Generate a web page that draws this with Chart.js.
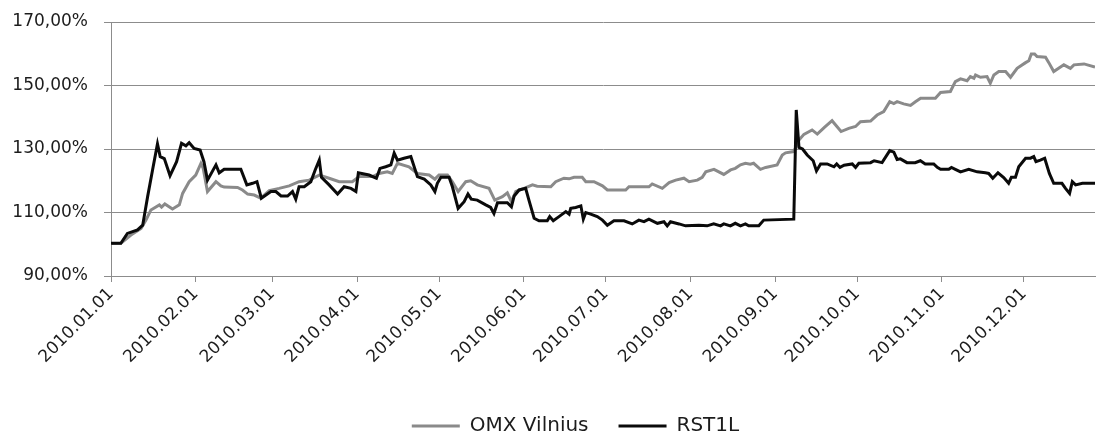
<!DOCTYPE html>
<html>
<head>
<meta charset="utf-8">
<title>OMX Vilnius ir RST1L, 2010</title>
<script src="https://cdn.jsdelivr.net/npm/chart.js@4.4.1/dist/chart.umd.min.js"></script>
<style>
  html, body { margin: 0; padding: 0; background: #fff; overflow: hidden; }
  #wrap { width: 1101px; height: 446px; }
</style>
</head>
<body>
<div id="wrap"><canvas id="chart" width="1101" height="446"></canvas></div>
<script>
// --- DUOMENYS ---
// x: dienos nuo 2010.01.01, y: pokytis procentais (100 % = 2010.01.01)
const monthLabels = ['2010.01.01', '2010.02.01', '2010.03.01', '2010.04.01', '2010.05.01', '2010.06.01',
                     '2010.07.01', '2010.08.01', '2010.09.01', '2010.10.01', '2010.11.01', '2010.12.01'];

const omxDay = [0, 3.6, 7.3, 11, 12.8, 14.6, 17.7, 18.5, 19.7, 22.5, 25, 26.2, 28.6, 31, 32.9, 33.7, 35.3, 38.4, 40.2,
  41.4, 46.3, 48.1, 50, 52.4, 54.8, 57.9, 61.5, 65.2, 68.8, 72.5, 76.2, 79.8, 83.5, 88.3, 90.8, 95.7, 98.1, 101.1,
  102.9, 104.8, 109, 112.1, 116.4, 118.5, 120, 123.1, 124.9, 127, 129.8, 131.6, 134, 138.3, 140.4, 143.2, 145,
  146.5, 148.1, 151.1, 154.2, 155.9, 160.9, 162.7, 165.7, 167.6, 169.4, 172.4, 173.7, 176.7, 179.8, 181.6, 188.3,
  189.5, 196.8, 198, 201.7, 204.2, 206.6, 209.6, 211.5, 214.5, 216.3, 217.6, 220.6, 224.2, 226.7, 228.4, 230.3,
  232.1, 233.9, 235.1, 237.6, 239.5, 243.7, 245.6, 246.8, 249.8, 251.7, 253.5, 256.5, 258.4, 261, 263.8, 267.1,
  269.9, 272.4, 274.2, 277.9, 280.3, 282.7, 284.9, 286.4, 287.6, 290, 292.5, 294.3, 296.2, 301.6, 303.5, 307.1,
  308.9, 310.8, 313.2, 314.4, 315.7, 316.3, 318.1, 320.5, 321.7, 323, 324.8, 327.3, 329.1, 331.5, 334.6, 335.8,
  336.7, 337.9, 338.8, 341.9, 343.1, 344.9, 348.6, 351, 352.3, 356, 357.2, 360];
const omxValue = [100.2, 100.3, 102.9, 105, 107.6, 110.8, 112.4, 111.7, 112.7, 111.1, 112.4, 116, 119.7, 121.8, 125.5,
  124, 116.6, 119.7, 118.4, 118, 117.9, 117.1, 115.8, 115.5, 114.5, 116.9, 117.6, 118.4, 119.7, 120.2, 121.8, 120.8,
  119.7, 119.7, 121.3, 121.3, 122.3, 122.8, 122.3, 125.5, 124.4, 122.3, 121.8, 120.5, 121.8, 121.8, 119.7, 116.6,
  119.7, 120, 118.7, 117.6, 113.9, 115, 116.2, 113.4, 116.6, 117.6, 118.7, 118.3, 118.1, 119.7, 120.8, 120.6, 121.1,
  121.1, 119.7, 119.7, 118.4, 117.1, 117.1, 118.1, 118.1, 119, 117.6, 119.4, 120.2, 120.8, 119.7, 120.2, 121.1,
  122.8, 123.6, 122, 123.4, 123.9, 125, 125.5, 125.2, 125.5, 123.6, 124.2, 125, 128.1, 128.8, 129.2, 132.8, 134.6,
  136, 134.7, 136.8, 138.9, 135.5, 136.5, 137.1, 138.6, 138.8, 140.7, 141.8, 144.9, 144.3, 144.9, 144.2, 143.7,
  144.9, 146, 146, 147.8, 148.1, 151.2, 152.1, 151.5, 152.8, 152.3, 153.3, 152.6, 152.8, 150.7, 153.3, 154.4, 154.4,
  152.6, 155.4, 157.2, 157.8, 159.9, 159.9, 159.1, 158.9, 157.2, 154.4, 156.5, 155.4, 156.5, 156.8, 156.5, 155.8];

const rstDay = [0, 3.6, 6, 9.7, 11.6, 13.4, 15.2, 17, 18, 19.5, 21.6, 24, 25.8, 27.4, 28.6, 30.4, 32.6, 34, 35.3, 38.4,
  39.6, 41.4, 47.5, 49.7, 51.8, 53.4, 55, 58.5, 60.3, 62.2, 64.6, 66.4, 67.6, 68.8, 70.7, 73.1, 74.7, 76.2, 77, 79.8,
  82.9, 85.3, 87.8, 89.6, 90.5, 94.4, 97.1, 98.4, 100.5, 102.4, 103.6, 104.8, 107.2, 109.7, 112.1, 114.6, 117, 118.5,
  119.4, 120.7, 123.7, 124.9, 127, 129.2, 130.6, 131.8, 134, 137.1, 138.9, 140.1, 141.4, 145, 146.5, 147.5, 149.3,
  151.7, 152.9, 154.8, 156.6, 159.6, 160.5, 161.8, 163.9, 166.4, 167.6, 168.2, 170, 171.9, 172.8, 173.7, 175.5,
  177.9, 179.8, 181.6, 184, 187.7, 190.7, 193.1, 195, 196.8, 199.9, 202.3, 203.5, 204.7, 207.8, 210.2, 215.1, 218.1,
  220.5, 223, 224.2, 226.6, 228.4, 230.3, 232.1, 233.3, 237, 238.8, 249.8, 250.7, 251.7, 253, 254.7, 256.9, 258.1,
  259.6, 262, 264.5, 265.5, 266.7, 268.2, 271.2, 272.4, 273.6, 277.9, 279.2, 282.1, 284.9, 286.4, 287.6, 288.8,
  291.2, 294.2, 296.1, 297.9, 301, 302.3, 303.5, 306.5, 307.5, 308.9, 310.8, 313.8, 316.9, 319.9, 321.1, 322.6,
  324.5, 326.6, 328.4, 329.4, 330.9, 332.1, 334.6, 336.4, 337.6, 338.4, 340, 341.6, 343.3, 344.9, 347.9, 349.2,
  350.7, 351.7, 352.9, 355.4, 360];
const rstValue = [100.3, 100.3, 103.4, 104.5, 106, 115, 123.4, 131.6, 127.6, 127, 121.6, 126, 131.8, 131, 132, 130.2,
  129.7, 126, 120.2, 125, 122.5, 123.6, 123.6, 118.7, 119.2, 119.7, 114.5, 116.6, 116.6, 115.2, 115.2, 116.6, 114.2,
  118.1, 118.1, 119.7, 123.4, 126.5, 121.1, 118.7, 115.8, 118.1, 117.6, 116.6, 122.5, 121.8, 120.8, 123.9, 124.4,
  125, 128.7, 126.5, 127.1, 127.6, 121.3, 120.5, 118.7, 116.6, 119.2, 121.1, 121.1, 118.1, 111.3, 113.4, 115.8,
  114.2, 113.9, 112.4, 111.6, 109.7, 113.1, 113.1, 111.8, 115.2, 117.1, 117.6, 113.9, 108.2, 107.4, 107.4, 108.7,
  107.4, 108.7, 110.3, 109.5, 111.3, 111.6, 112.1, 107.9, 110, 109.5, 108.7, 107.6, 106, 107.4, 107.4, 106.4, 107.6,
  107.1, 107.9, 106.6, 107.1, 105.8, 107.1, 106.4, 105.8, 106, 105.8, 106.4, 105.8, 106.4, 105.8, 106.6, 105.8,
  106.4, 105.8, 105.8, 107.6, 107.9, 142.3, 130.5, 130, 128.1, 126.3, 123.1, 125.3, 125.3, 124.4, 125.3, 124.2,
  124.9, 125.3, 124.2, 125.5, 125.7, 126.3, 125.7, 129.5, 129, 126.7, 126.9, 125.7, 125.7, 126.3, 125.3, 125.3,
  124.2, 123.6, 123.6, 124.2, 123.6, 122.8, 123.6, 122.8, 122.5, 122.3, 120.8, 122.5, 121, 119.2, 121.1, 121.1,
  124.4, 127.1, 127.1, 127.6, 126, 126.5, 127.1, 122.3, 119.2, 119.2, 117.6, 116, 119.7, 118.7, 119.2, 119.2];

// --- OUTILS ---
const monthStart = monthLabels.map((_, m) => (Date.UTC(2010, m, 1) - Date.UTC(2010, 0, 1)) / 86400000);
const toPoints = (days, values) => days.map((d, i) => ({ x: d, y: values[i] }));
const formatPercent = (v) => v.toFixed(2).replace('.', ',') + '%';

const gridColor = '#8c8c8c';
const textColor = '#1c1c1c';
const font = { family: 'DejaVu Sans', size: 17 };

// la légende d'Excel est un peu décalée vers la droite
const legendShift = {
  id: 'legendShift',
  afterLayout: (chart) => { if (chart.legend) chart.legend.left += 56; }
};

new Chart(document.getElementById('chart'), {
  type: 'line',
  data: {
    datasets: [
      {
        label: 'OMX Vilnius',
        data: toPoints(omxDay, omxValue),
        borderColor: '#8a8a8a',
        backgroundColor: '#8a8a8a',
        borderWidth: 3,
        pointRadius: 0,
        tension: 0,
        order: 1
      },
      {
        label: 'RST1L',
        data: toPoints(rstDay, rstValue),
        borderColor: '#0a0a0a',
        backgroundColor: '#0a0a0a',
        borderWidth: 3,
        pointRadius: 0,
        tension: 0,
        order: 0
      }
    ]
  },
  plugins: [legendShift],
  options: {
    responsive: false,
    animation: false,
    layout: { padding: { top: 22, right: 6, left: 0, bottom: 0 } },
    plugins: {
      tooltip: { enabled: false },
      legend: {
        position: 'bottom',
        labels: {
          usePointStyle: true,
          pointStyle: 'line',
          pointStyleWidth: 48,
          padding: 30,
          color: textColor,
          font: { family: 'DejaVu Sans', size: 20 },
          sort: (a, b) => a.datasetIndex - b.datasetIndex
        }
      }
    },
    scales: {
      x: {
        type: 'linear',
        min: 0,
        max: 360,
        afterBuildTicks: (axis) => { axis.ticks = monthStart.map(v => ({ value: v })); },
        afterFit: (axis) => { axis.height = 110; },
        ticks: {
          autoSkip: false,
          minRotation: 45,
          maxRotation: 45,
          padding: 2,
          color: textColor,
          font: font,
          callback: (value, index) => monthLabels[index]
        },
        grid: { drawOnChartArea: false, drawTicks: true, tickLength: 6, color: gridColor },
        border: { display: true, color: gridColor }
      },
      y: {
        min: 90,
        max: 170,
        afterFit: (axis) => { axis.width = 111; axis.paddingTop = 0; },
        ticks: { stepSize: 20, padding: 16, color: textColor, font: font, callback: formatPercent },
        grid: { color: gridColor, tickLength: 7 },
        border: { display: true, color: gridColor }
      }
    }
  }
});
</script>
</body>
</html>
